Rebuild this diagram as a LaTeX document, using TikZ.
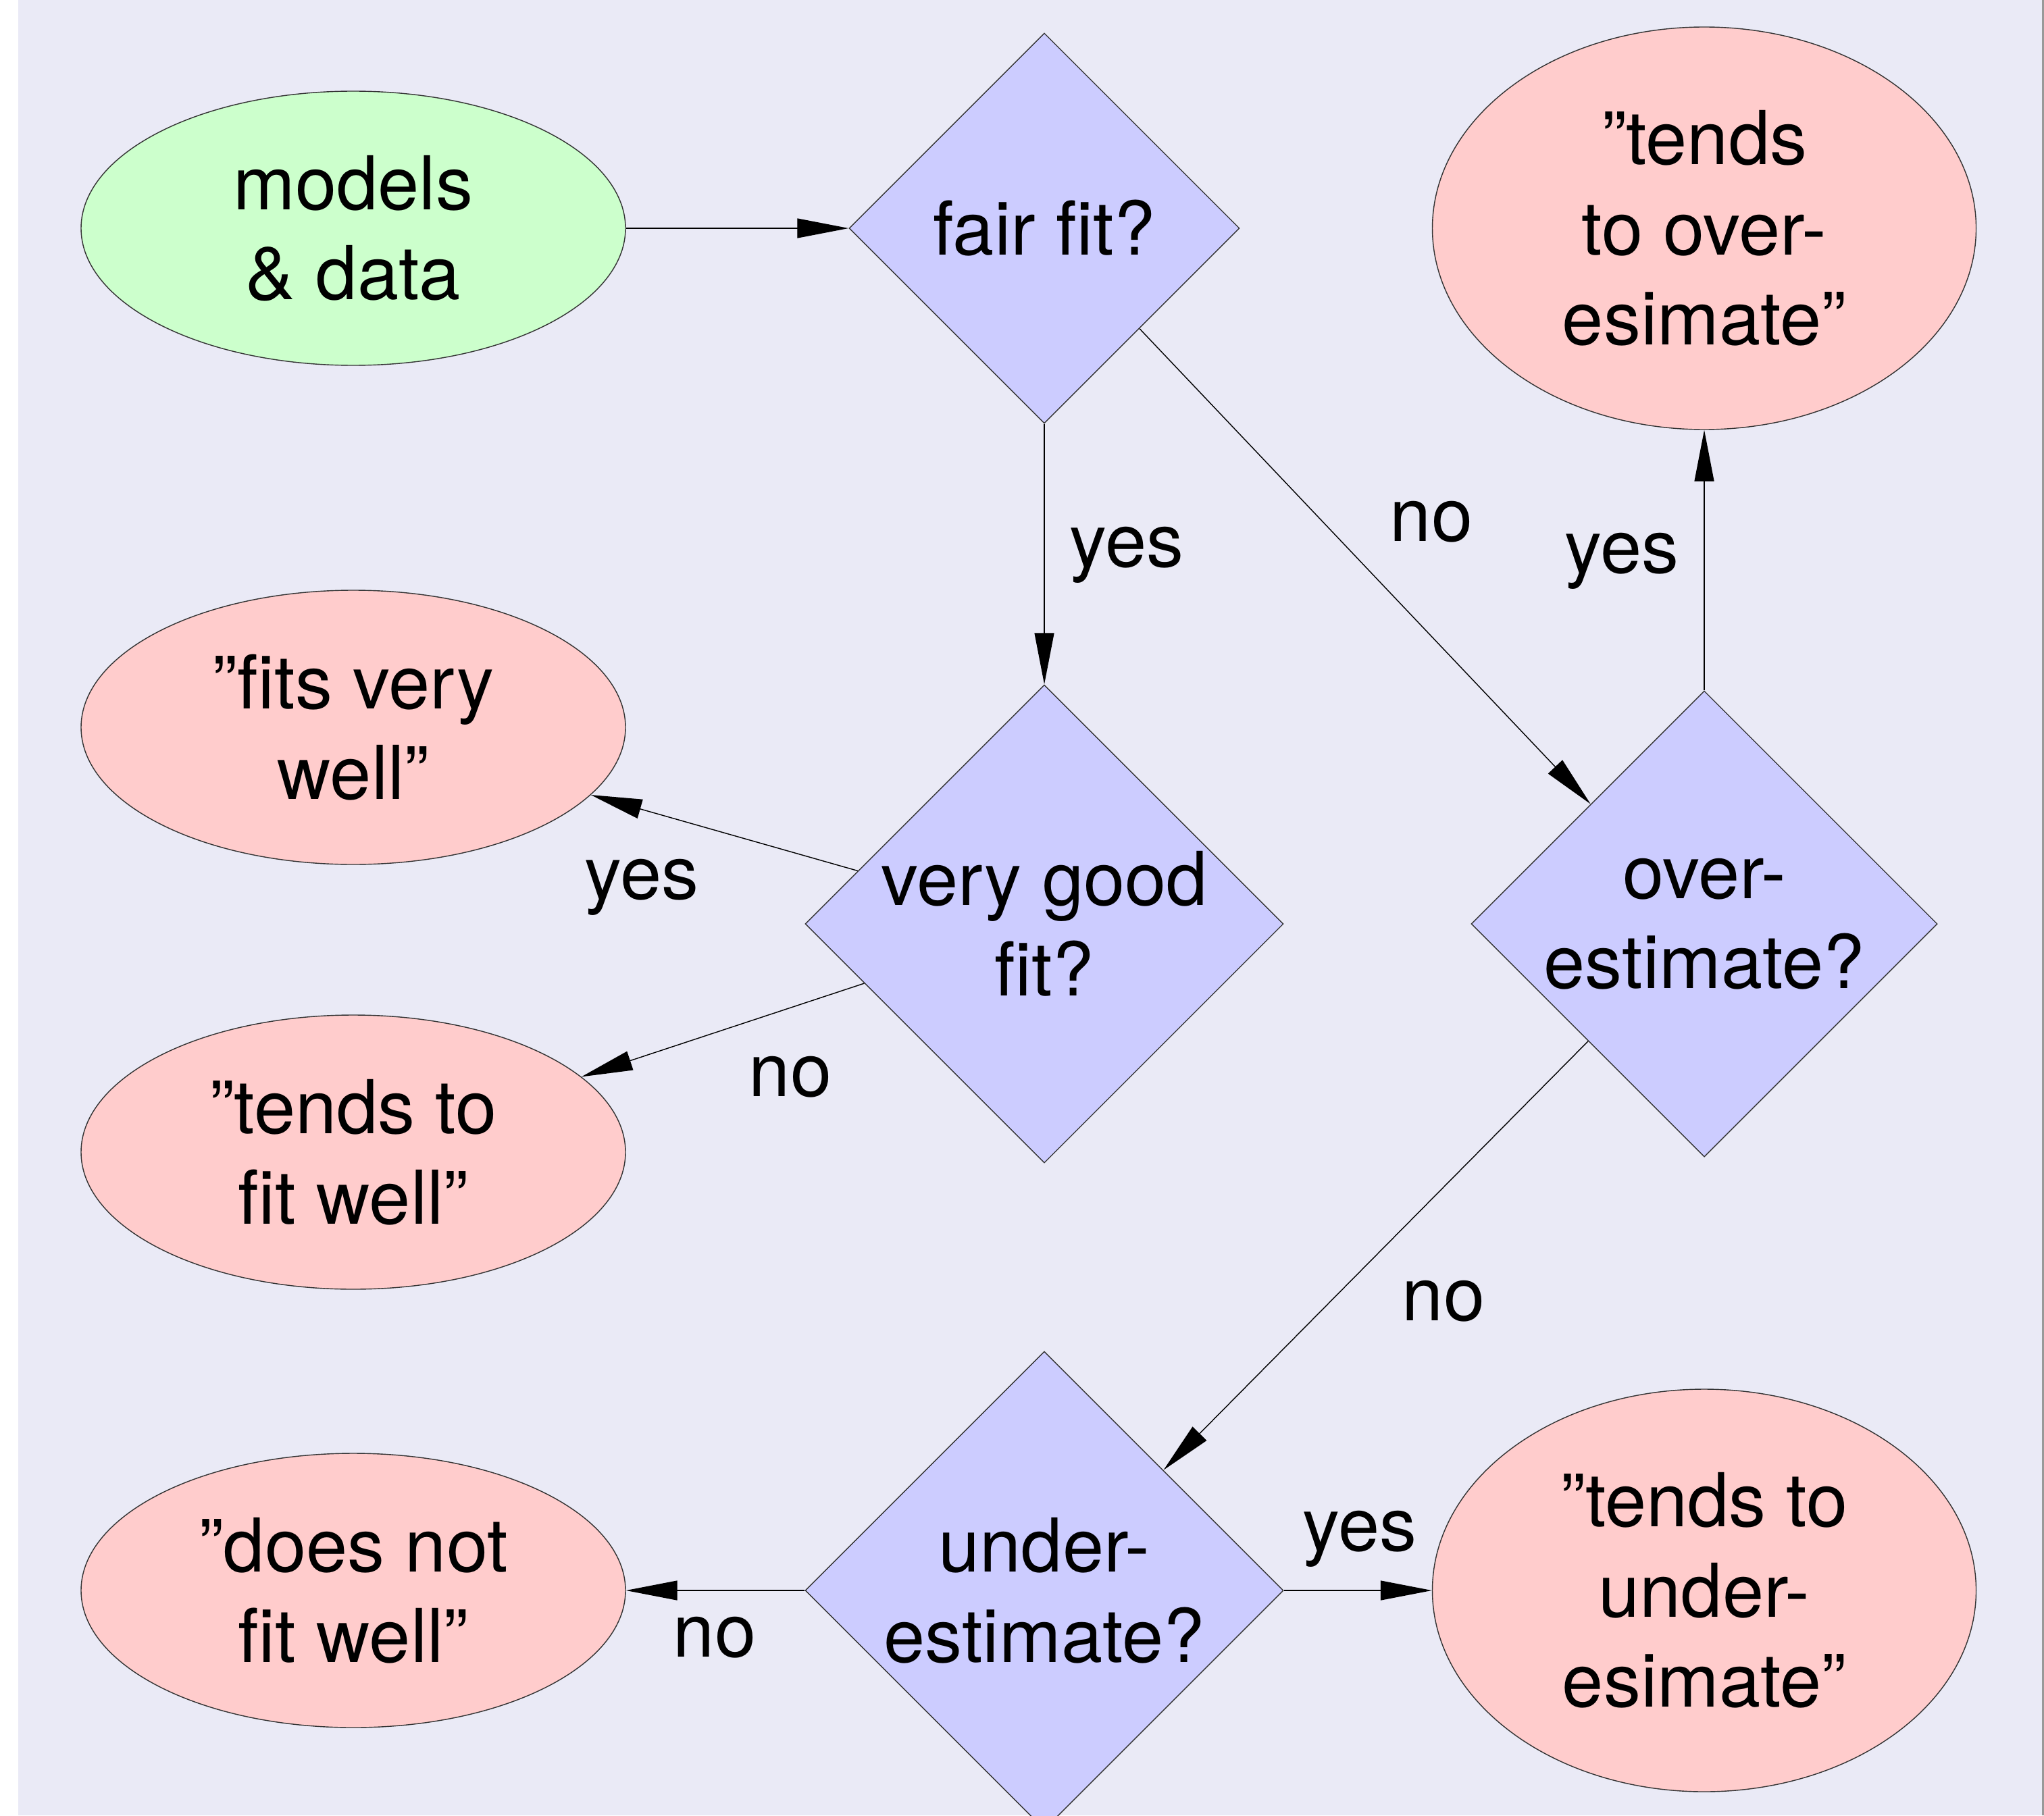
\documentclass[tikz,border=0pt]{standalone}
\usepackage{fontspec}
\setmainfont{TeX Gyre Heros}
\usetikzlibrary{shapes.geometric, arrows.meta}
\definecolor{bgcol}{HTML}{EAEAF6}
\definecolor{startcol}{HTML}{CCFFCC}
\definecolor{endcol}{HTML}{FFCCCC}
\definecolor{testcol}{HTML}{CCCCFF}
\tikzset{
  base/.style={draw=black!80, line width=0.4pt, align=center, inner sep=0pt, font=\fontsize{31.3}{38}\selectfont},
  startnode/.style={base, ellipse, fill=startcol, minimum width=8.06cm, minimum height=4.06cm},
  endnode/.style={base, ellipse, fill=endcol, minimum width=8.06cm, minimum height=4.06cm},
  tallend/.style={endnode, minimum width=8.05cm, minimum height=5.96cm},
  testnode/.style={base, diamond, fill=testcol, aspect=1},
  answer/.style={font=\fontsize{31.3}{38}\selectfont, inner sep=0pt},
  flow/.style={-{Triangle[length=0.76cm, width=0.29cm]}, line width=0.4pt}
}

\begin{document}
\begin{tikzpicture}[x=1cm, y=-1cm]
        \useasboundingbox (0,0) rectangle (30.26,26.88);
        \fill[white] (0,0) rectangle (30.26,26.88);
        \fill[bgcol] (0.27,0) rectangle (30.23,26.88);
        \fill[black!40] (30.23,0) rectangle (30.26,26.88);
        \node[startnode] (models) at (5.23,3.38) {models\\\& data};
        \node[testnode, minimum size=5.78cm] (fair) at (15.46,3.38) {fair fit?};
        \node[tallend] (overres) at (25.23,3.38) {”tends\\to over-\\esimate”};
        \node[endnode] (verywell) at (5.23,10.77) {”fits very\\well”};
        \node[testnode, minimum size=7.08cm] (verygood) at (15.46,13.68) {very good\\fit?};
        \node[testnode, minimum size=6.9cm] (over) at (25.23,13.68) {over-\\estimate?};
        \node[endnode] (fitwell) at (5.23,17.06) {”tends to\\fit well”};
        \node[endnode] (notwell) at (5.23,23.55) {”does not\\fit well”};
        \node[testnode, minimum size=7.08cm] (under) at (15.46,23.55) {under-\\estimate?};
        \node[tallend] (underres) at (25.23,23.55) {”tends to\\under-\\esimate”};
        \draw[flow] (models) -- (fair);
        \draw[flow] (fair) -- (verygood);
        \draw[flow] (fair) -- (over);
        \draw[flow] (over) -- (overres);
        \draw[flow] (verygood) -- (verywell);
        \draw[flow] (verygood) -- (fitwell);
        \draw[flow] (over) -- (under);
        \draw[flow] (under) -- (underres);
        \draw[flow] (under) -- (notwell);
        \node[answer] (yesfair) at (16.68,8.22) {yes};
        \node[answer] (nofair) at (21.19,7.73) {no};
        \node[answer] (yesover) at (24.01,8.31) {yes};
        \node[answer] (yesgood) at (9.50,13.14) {yes};
        \node[answer] (nogood) at (11.70,15.95) {no};
        \node[answer] (noover) at (21.37,19.27) {no};
        \node[answer] (yesunder) at (20.13,22.79) {yes};
        \node[answer] (nounder) at (10.58,24.25) {no};
\end{tikzpicture}
\end{document}
